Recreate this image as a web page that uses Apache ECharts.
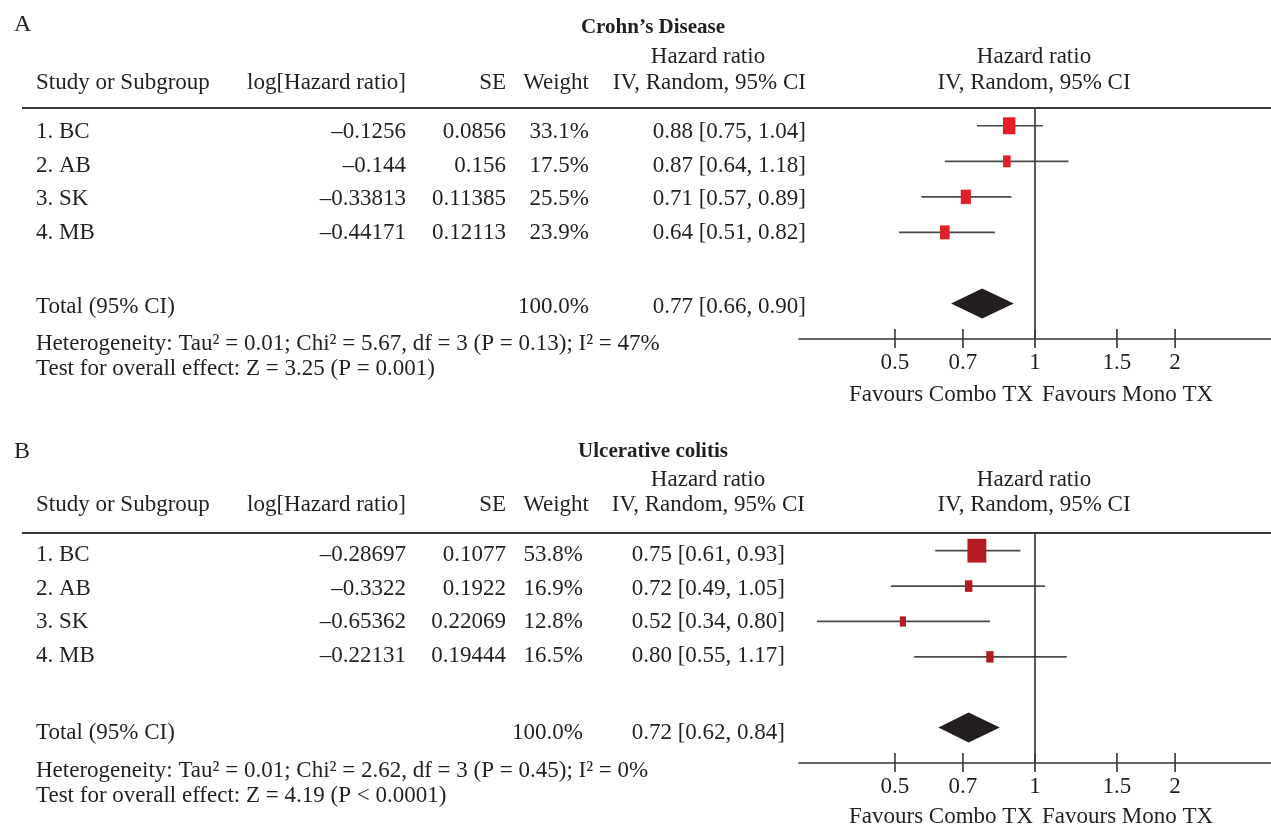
<!DOCTYPE html>
<html>
<head>
<meta charset="utf-8">
<script src="https://cdn.jsdelivr.net/npm/echarts@6/dist/echarts.min.js"></script>
<style>
html,body{margin:0;padding:0;background:#fff;}
#chart{width:1271px;height:826px;}
</style>
</head>
<body>
<div id="chart"></div>
<script>
// ---------------- DATA ----------------
const studies = ['1. BC', '2. AB', '3. SK', '4. MB'];

// Panel A: Crohn's Disease
const cdLogHR = [-0.1256, -0.144, -0.33813, -0.44171];
const cdSE = [0.0856, 0.156, 0.11385, 0.12113];
const cdWeight = [33.1, 17.5, 25.5, 23.9];
const cdHR = [0.88, 0.87, 0.71, 0.64];
const cdLo = [0.75, 0.64, 0.57, 0.51];
const cdHi = [1.04, 1.18, 0.89, 0.82];
const cdTotal = [0.77, 0.66, 0.90];
const cdHet = 'Heterogeneity: Tau² = 0.01; Chi² = 5.67, df = 3 (P = 0.13); I² = 47%';
const cdTest = 'Test for overall effect: Z = 3.25 (P = 0.001)';

// Panel B: Ulcerative colitis
const ucLogHR = [-0.28697, -0.3322, -0.65362, -0.22131];
const ucSE = [0.1077, 0.1922, 0.22069, 0.19444];
const ucWeight = [53.8, 16.9, 12.8, 16.5];
const ucHR = [0.75, 0.72, 0.52, 0.80];
const ucLo = [0.61, 0.49, 0.34, 0.55];
const ucHi = [0.93, 1.05, 0.80, 1.17];
const ucTotal = [0.72, 0.62, 0.84];
const ucHet = 'Heterogeneity: Tau² = 0.01; Chi² = 2.62, df = 3 (P = 0.45); I² = 0%';
const ucTest = 'Test for overall effect: Z = 4.19 (P < 0.0001)';

const tickValues = [0.5, 0.7, 1, 1.5, 2];
const tickLabels = ['0.5', '0.7', '1', '1.5', '2'];
const axisMin = 0.311, axisMax = 3.215;

// ---------------- LAYOUT ----------------
const FONT = '"Liberation Serif", "Times New Roman", serif';
const FS = 23;
const TXT = '#231f20';
const panels = [
  {
    letter: 'A', title: 'Crohn\u2019s Disease',
    logHR: cdLogHR, se: cdSE, weight: cdWeight, hr: cdHR, lo: cdLo, hi: cdHi, total: cdTotal,
    het: cdHet, test: cdTest, color: '#e21f26',
    L: {letterY: 25, titleY: 28, hrY: 57, headY: 83, lineY: 108, rowY: [132, 166, 199, 233],
        totalY: 307, hetY: 344, testY: 369, gridTop: 108, gridH: 231, favY: 395,
        wRight: 589, ciRight: 806, ciHeadRight: 806}
  },
  {
    letter: 'B', title: 'Ulcerative colitis',
    logHR: ucLogHR, se: ucSE, weight: ucWeight, hr: ucHR, lo: ucLo, hi: ucHi, total: ucTotal,
    het: ucHet, test: ucTest, color: '#b21c22',
    L: {letterY: 452, titleY: 452, hrY: 480, headY: 505, lineY: 533, rowY: [555, 589, 622, 656],
        totalY: 733, hetY: 771, testY: 796, gridTop: 533, gridH: 230, favY: 817,
        wRight: 583, ciRight: 785, ciHeadRight: 805}
  }
];

const fmtNum = v => String(v).replace('-', '\u2013');
const fmtCI = (h, l, u) => h.toFixed(2) + ' [' + l.toFixed(2) + ', ' + u.toFixed(2) + ']';

function txt(x, y, text, align, size, bold) {
  return {
    type: 'text', x: x, y: y, silent: true,
    style: {
      text: text, fill: TXT,
      font: (bold ? 'bold ' : '') + (size || FS) + 'px ' + FONT,
      align: align || 'left', verticalAlign: 'middle',
      textAlign: align || 'left', textVerticalAlign: 'middle'
    }
  };
}

const graphic = [];
const grids = [], xAxes = [], yAxes = [], series = [];

panels.forEach((p, k) => {
  const L = p.L;
  graphic.push(txt(14, L.letterY, p.letter, 'left', 24));
  graphic.push(txt(653, L.titleY, p.title, 'center', 21, true));
  graphic.push(txt(708, L.hrY, 'Hazard ratio', 'center'));
  graphic.push(txt(1034, L.hrY, 'Hazard ratio', 'center'));
  graphic.push(txt(36, L.headY, 'Study or Subgroup', 'left'));
  graphic.push(txt(406, L.headY, 'log[Hazard ratio]', 'right'));
  graphic.push(txt(506, L.headY, 'SE', 'right'));
  graphic.push(txt(589, L.headY, 'Weight', 'right'));
  graphic.push(txt(L.ciHeadRight, L.headY, 'IV, Random, 95% CI', 'right'));
  graphic.push(txt(1034, L.headY, 'IV, Random, 95% CI', 'center'));
  graphic.push({type: 'line', silent: true,
    shape: {x1: 22, y1: L.lineY, x2: 1271, y2: L.lineY},
    style: {stroke: '#3a3a3a', lineWidth: 2}});
  studies.forEach((s, i) => {
    const y = L.rowY[i];
    graphic.push(txt(36, y, s, 'left'));
    graphic.push(txt(406, y, fmtNum(p.logHR[i]), 'right'));
    graphic.push(txt(506, y, fmtNum(p.se[i]), 'right'));
    graphic.push(txt(L.wRight, y, p.weight[i].toFixed(1) + '%', 'right'));
    graphic.push(txt(L.ciRight, y, fmtCI(p.hr[i], p.lo[i], p.hi[i]), 'right'));
  });
  const totW = p.weight.reduce((a, b) => a + b, 0);
  graphic.push(txt(36, L.totalY, 'Total (95% CI)', 'left'));
  graphic.push(txt(L.wRight, L.totalY, Math.round(totW).toFixed(1) + '%', 'right'));
  graphic.push(txt(L.ciRight, L.totalY, fmtCI(p.total[0], p.total[1], p.total[2]), 'right'));
  graphic.push(txt(36, L.hetY, p.het, 'left'));
  graphic.push(txt(36, L.testY, p.test, 'left'));
  graphic.push(txt(1033, L.favY, 'Favours Combo TX', 'right'));
  graphic.push(txt(1042, L.favY, 'Favours Mono TX', 'left'));

  grids.push({left: 799, right: 0, top: L.gridTop, height: L.gridH});
  xAxes.push({
    type: 'log', logBase: 10, gridIndex: k, min: axisMin, max: axisMax,
    axisLine: {show: true, onZero: false, lineStyle: {color: '#333', width: 1.6}},
    axisTick: {show: false}, axisLabel: {show: false}, splitLine: {show: false}
  });
  yAxes.push({type: 'value', gridIndex: k, min: -0.5, max: 6, inverse: true, show: false});

  // reference line at HR = 1
  series.push({
    type: 'line', xAxisIndex: k, yAxisIndex: k, symbol: 'none', silent: true,
    data: [[1, -0.5], [1, 6]], lineStyle: {color: '#333', width: 1.6}
  });
  // study CIs + weighted boxes
  series.push({
    type: 'custom', xAxisIndex: k, yAxisIndex: k, silent: true, clip: false,
    data: studies.map((s, i) => [p.hr[i], p.lo[i], p.hi[i], i, p.weight[i]]),
    encode: {x: [0, 1, 2], y: 3},
    renderItem: (params, api) => {
      const c = api.coord([api.value(0), api.value(3)]);
      const a = api.coord([api.value(1), api.value(3)]);
      const b = api.coord([api.value(2), api.value(3)]);
      const w = api.value(4);
      const bw = 0.31 * w + 2.2, bh = 0.33 * w + 6;
      return {type: 'group', children: [
        {type: 'line', shape: {x1: a[0], y1: a[1], x2: b[0], y2: b[1]},
         style: {stroke: '#4a4a4a', lineWidth: 1.7}},
        {type: 'rect', shape: {x: c[0] - bw / 2, y: c[1] - bh / 2, width: bw, height: bh},
         style: {fill: p.color}}
      ]};
    }
  });
  // pooled diamond
  series.push({
    type: 'custom', xAxisIndex: k, yAxisIndex: k, silent: true, clip: false,
    data: [[p.total[0], p.total[1], p.total[2], 5]],
    encode: {x: [0, 1, 2], y: 3},
    renderItem: (params, api) => {
      const c = api.coord([api.value(0), api.value(3)]);
      const a = api.coord([api.value(1), api.value(3)]);
      const b = api.coord([api.value(2), api.value(3)]);
      const hh = 15;
      return {type: 'polygon',
        shape: {points: [[a[0], c[1]], [c[0], c[1] - hh], [b[0], c[1]], [c[0], c[1] + hh]]},
        style: {fill: '#231f20'}};
    }
  });
  // axis ticks (crossing the axis line) and tick labels
  series.push({
    type: 'custom', xAxisIndex: k, yAxisIndex: k, silent: true, clip: false,
    data: tickValues.map((v, i) => [v, i]),
    encode: {x: 0},
    renderItem: (params, api) => {
      const pt = api.coord([api.value(0), 6]);
      return {type: 'group', children: [
        {type: 'line', shape: {x1: pt[0], y1: pt[1] - 10, x2: pt[0], y2: pt[1] + 9},
         style: {stroke: '#333', lineWidth: 1.6}},
        {type: 'text', x: pt[0], y: pt[1] + 24,
         style: {text: tickLabels[params.dataIndex], fill: TXT, font: FS + 'px ' + FONT,
                 align: 'center', verticalAlign: 'middle'}}
      ]};
    }
  });
});

const chart = echarts.init(document.getElementById('chart'), null, {renderer: 'canvas'});
chart.setOption({
  backgroundColor: '#ffffff',
  animation: false,
  grid: grids,
  xAxis: xAxes,
  yAxis: yAxes,
  series: series,
  graphic: graphic
});
</script>
</body>
</html>
